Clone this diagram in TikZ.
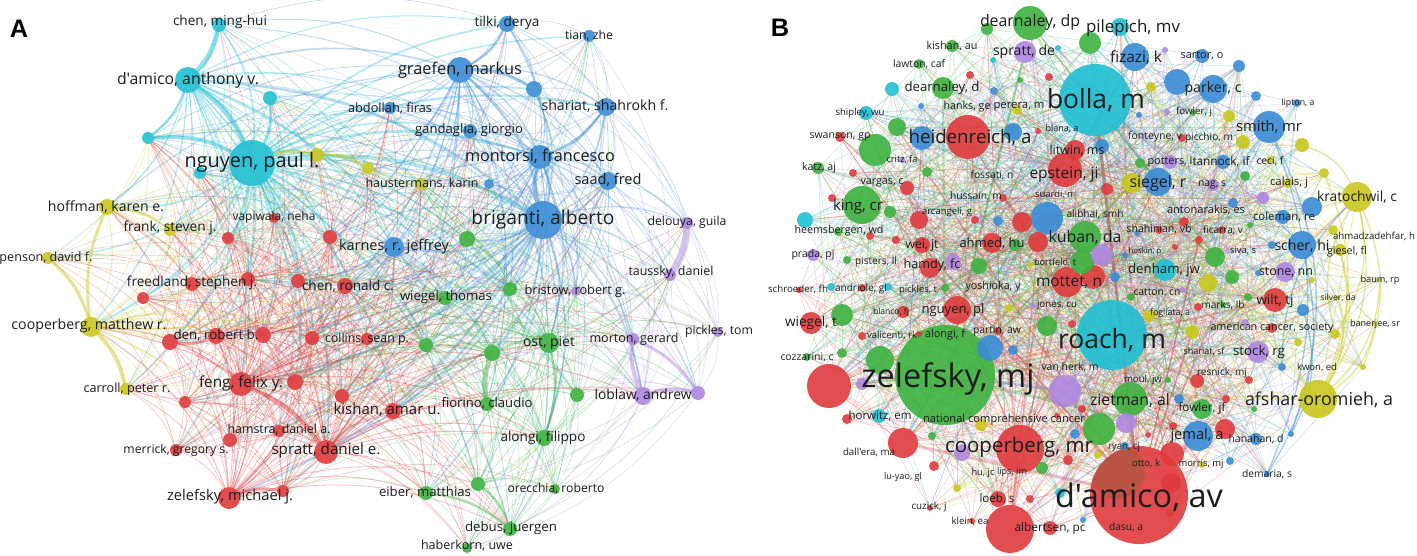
\documentclass[tikz,border=0pt]{standalone}
\usepackage{fontspec}
\usepackage{graphicx}
\newfontfamily\lblfont{Open Sans}
\newfontfamily\panfont{Liberation Sans}
\pgfdeclarelayer{bgl}
\pgfdeclarelayer{edges}
\pgfsetlayers{bgl,edges,main}
\definecolor{cyN}{HTML}{1FBFD3}
\definecolor{blN}{HTML}{3A8BD6}
\definecolor{reN}{HTML}{DF3A3C}
\definecolor{grN}{HTML}{3DB23F}
\definecolor{yeN}{HTML}{C9C71C}
\definecolor{puN}{HTML}{AE86E0}
\definecolor{brN}{HTML}{9A5A3A}
\definecolor{txN}{HTML}{1C1C1C}
\newdimen\pxu \pxu=0.75pt
\newcommand\storenode[6]{%
  \expandafter\xdef\csname #1x#2\endcsname{#3}%
  \expandafter\xdef\csname #1y#2\endcsname{#4}%
  \expandafter\xdef\csname #1r#2\endcsname{#5}%
  \expandafter\xdef\csname #1c#2\endcsname{#6}}
\tikzset{
  vnode/.style={circle, inner sep=0pt, outer sep=0pt, draw=none, fill=#1, fill opacity=0.9},
  lbl/.style={inner sep=0pt, outer sep=0pt, text=txN, font=\lblfont\fontsize{10}{12}\selectfont},
  panlbl/.style={inner sep=0pt, font=\panfont\bfseries\fontsize{19}{20}\selectfont, text=black},
  aedge/.style={draw opacity=0.33, line cap=round},
  bedge/.style={draw opacity=0.3, line cap=round},
}
\begin{document}
\begin{tikzpicture}[x=0.75pt,y=-0.75pt]
\begin{pgfonlayer}{bgl}
\fill[white] (0,0) rectangle (1417,556);
\end{pgfonlayer}
\useasboundingbox (0,0) rectangle (1417,556);
\node[panlbl] (panA) at (19,29) {A};
\node[panlbl] (panB) at (780,28) {B};

% ---------------- Panel A nodes ----------------
\foreach \x/\y/\r/\c [count=\i] in {
219/25/7/cyN, 188/80/13/cyN, 270/98/7/cyN, 148/138/6/cyN, 252/163/23/cyN, 200/173/6/cyN,
317/155/7/yeN, 107/207/8/yeN, 170/230/6/yeN, 274/218/5/reN, 228/238/6/reN, 330/237/7/reN,
48/258/6/yeN, 507/24/8/blN, 589/36/6/blN, 460/70/13/blN, 534/89/8/blN, 390/108/6/blN,
606/107/9/blN, 470/131/7/blN, 540/157/12/blN, 608/181/9/blN, 421/184/6/yeN, 489/184/5/blN,
368/168/6/yeN, 543/220/19/blN, 467/239/8/grN, 394/247/10/blN, 687/223/6/puN, 670/275/6/puN,
192/284/7/reN, 248/279/7/reN, 298/281/7/reN, 345/286/8/reN, 143/298/6/reN, 91/327/10/yeN,
170/342/8/reN, 216/336/8/reN, 263/335/8/reN, 312/338/7/reN, 367/339/6/reN, 241/384/12/reN,
295/382/8/reN, 342/396/7/reN, 126/389/6/yeN, 185/402/6/reN, 279/431/6/reN, 230/440/7/reN,
176/450/6/reN, 326/452/12/reN, 283/491/6/reN, 229/498/11/reN, 393/411/8/reN, 445/298/7/grN,
510/289/7/grN, 576/291/5/puN, 426/345/7/grN, 492/353/8/grN, 549/343/10/grN, 633/339/6/puN,
718/332/5/puN, 487/404/7/grN, 577/395/7/grN, 643/396/9/puN, 698/393/7/puN, 544/438/8/grN,
478/484/7/grN, 426/493/7/grN, 555/489/5/grN, 510/529/7/grN, 467/548/5/grN}{
  \node[vnode=\c, minimum size=\r*1.5pt] (a\i) at (\x,\y) {};
  \storenode{a}{\i}{\x}{\y}{\r}{\c}
  \xdef\NA{\i}
}

% ---------------- Panel B nodes (named) ----------------
\foreach \x/\y/\r/\c/\nm [count=\i] in {
1095/100/36/cyN/bolla, 1112/335/35/cyN/roach, 945/375/50/grN/zelef, 1139/495/49/reN/damav,
968/137/22/reN/heid, 829/386/22/reN/rbig, 1020/449/24/reN/coop, 1010/529/24/reN/albert,
1357/197/15/yeN/krat, 1318/399/19/yeN/afsh, 1333/230/5/yeN/ahma, 1340/250/6/yeN/gies,
1380/280/2/yeN/baum, 1338/298/2/yeN/silv, 1375/324/2/yeN/bane, 1335/334/5/yeN/ytt,
1363/367/3/yeN/ysx, 1269/127/16/blN/smith, 1302/245/14/blN/scher, 1267/474/3/blN/dema,
1291/434/3/blN/bft, 1303/310/6/blN/btt, 1282/367/4/blN/kwon, 1324/173/5/yeN/ytf, 1302/145/7/yeN/yto}{
  \node[vnode=\c, minimum size=\r*1.5pt, alias=\nm] (b\i) at (\x,\y) {};
  \storenode{b}{\i}{\x}{\y}{\r}{\c}
  \xdef\NBa{\i}
}
% darker overlap patch on d'amico, av
\begin{scope}
  \clip (damav.center) circle[radius=49];
  \fill[brN, fill opacity=0.55] (1118,472) circle[radius=27];
\end{scope}
% ---------------- Panel B nodes (others) ----------------
\pgfmathtruncatemacro\NBs{\NBa+1}
\foreach \x/\y/\r/\c [count=\i from \NBs] in {
1120/27/9/cyN, 866/113/7/cyN, 892/89/7/cyN, 805/220/8/cyN, 993/60/3/cyN, 1058/48/3/cyN,
831/287/4/cyN, 888/287/4/cyN, 879/416/7/cyN, 1165/270/11/cyN, 1060/493/5/cyN,
1135/57/14/blN, 1177/82/13/blN, 922/138/12/blN, 921/106/3/blN, 994/91/4/blN, 1013/132/9/blN,
1139/115/3/blN, 1102/146/7/blN, 1158/182/14/blN, 1202/56/7/blN, 1239/66/6/blN, 1213/89/14/blN,
1256/96/5/blN, 1297/103/4/blN, 1223/162/7/blN, 1233/203/5/blN, 1312/207/10/blN, 1283/217/7/blN,
1272/245/4/blN, 1258/273/3/blN, 998/221/5/blN, 1047/218/16/blN, 1125/255/3/blN, 1115/277/5/blN,
1137/233/3/blN, 990/348/13/blN, 1013/350/5/blN, 1179/399/5/blN, 1198/436/15/blN, 1256/439/6/blN,
1075/434/5/blN, 1125/446/4/blN, 1230/461/4/blN, 1083/520/3/blN,
840/137/5/reN, 853/173/4/reN, 907/188/7/reN, 970/75/4/reN, 1049/77/4/reN, 1038/131/3/reN,
1075/150/10/reN, 1065/170/17/reN, 1107/189/6/reN, 1182/138/4/reN, 1222/230/4/reN, 1184/222/5/reN,
1199/240/4/reN, 1175/247/3/reN, 1275/300/12/reN, 1198/307/4/reN, 1272/328/5/reN, 1003/198/4/reN,
975/220/4/reN, 1022/222/10/reN, 1038/242/10/reN, 992/243/10/reN, 930/268/10/reN, 1159/230/4/reN,
1067/282/15/reN, 1093/277/12/reN, 957/310/14/reN, 1072/324/4/reN, 998/331/4/reN, 832/198/4/reN,
919/220/9/reN, 870/236/4/reN, 896/240/4/reN, 922/245/8/reN, 799/290/3/reN, 862/288/4/reN,
811/323/11/reN, 903/312/6/reN, 862/336/4/reN, 919/334/3/reN, 847/419/5/reN, 903/443/15/reN,
934/466/5/reN, 998/499/8/reN, 1030/499/4/reN, 930/508/3/reN, 972/521/3/reN, 1050/528/7/reN,
1197/381/7/reN, 1249/380/4/reN, 1226/399/4/reN, 1082/409/4/reN, 1057/416/3/reN, 1173/426/4/reN,
1225/429/10/reN, 1148/435/3/reN, 1172/454/12/reN, 1171/483/10/reN, 1068/460/5/reN, 1170/513/4/reN,
952/46/6/grN, 919/64/5/grN, 943/88/11/grN, 897/127/9/grN, 875/150/16/grN, 818/168/6/grN,
927/172/5/grN, 1030/23/17/grN, 987/29/6/grN, 1090/43/11/grN, 1020/80/3/grN, 1140/163/5/grN,
1193/113/3/grN, 1245/176/5/grN, 1250/225/3/grN, 1215/257/10/grN, 1232/277/7/grN, 1248/297/4/grN,
1223/305/3/grN, 1015/245/6/grN, 1085/237/16/grN, 1082/262/12/grN, 979/266/8/grN, 945/288/4/grN,
1131/297/4/grN, 1047/326/10/grN, 862/205/19/grN, 890/212/6/grN, 838/232/4/grN, 847/260/4/grN,
842/315/11/grN, 807/357/4/grN, 842/353/5/grN, 880/360/14/grN, 932/436/4/grN, 1042/468/6/grN,
1168/380/3/grN, 1130/399/17/grN, 1202/409/10/grN, 1254/409/3/grN, 1099/429/16/grN,
1151/87/5/yeN, 1017/110/5/yeN, 1132/183/10/yeN, 1229/116/6/yeN, 1243/142/7/yeN, 1270/160/4/yeN,
1288/183/5/yeN, 1312/280/3/yeN, 1208/283/9/yeN, 1192/332/7/yeN, 1298/342/4/yeN, 1030/265/3/yeN,
1009/308/4/yeN, 1149/316/6/yeN, 981/425/6/yeN, 957/488/4/yeN, 1098/455/4/yeN, 1202/465/3/yeN,
1025/52/11/puN, 1165/50/3/puN, 1167/112/3/puN, 902/160/3/puN, 1170/162/7/puN, 1213/185/6/puN,
1263/198/6/puN, 1285/272/10/puN, 1182/290/3/puN, 1245/323/4/puN, 1258/352/11/puN, 1102/255/11/puN,
953/262/8/puN, 1033/306/3/puN, 813/255/6/puN, 862/384/6/puN, 962/453/8/puN, 1065/391/16/puN,
1126/423/10/puN}{
  \node[vnode=\c, minimum size=\r*1.5pt] (b\i) at (\x,\y) {};
  \storenode{b}{\i}{\x}{\y}{\r}{\c}
  \xdef\NB{\i}
}

% ---------------- Edges ----------------
\begin{pgfonlayer}{edges}
% panel A: curved links
\foreach \i in {1,...,\NA}{
  \foreach \j in {1,...,\NA}{
    \ifnum\j>\i\relax
      \edef\xi{\csname ax\i\endcsname}\edef\yi{\csname ay\i\endcsname}\edef\ri{\csname ar\i\endcsname}
      \edef\xj{\csname ax\j\endcsname}\edef\yj{\csname ay\j\endcsname}\edef\rj{\csname ar\j\endcsname}
      \pgfmathsetmacro\dd{veclen(\xi-\xj,\yi-\yj)}
      \pgfmathtruncatemacro\keep{(\dd<150) || ((\dd<300) && (mod(\i*7+\j*11,3)==0)) || (((\ri>9) || (\rj>9)) && (\dd<420) && (mod(\i+\j,2)==0)) || (mod(\i*5+\j*13,17)==0)}
      \ifnum\keep=1\relax
        \pgfmathsetmacro\ww{max(0.5,min(4,\ri*\rj/100))}
        \ifdim\ri pt>\rj pt\relax \edef\ec{\csname ac\i\endcsname}\else \edef\ec{\csname ac\j\endcsname}\fi
        \draw[aedge, draw=\ec, line width=\ww*0.75pt] (a\i) to[bend left=18] (a\j);
      \fi
    \fi
  }
}
% panel A: strong links
\foreach \i/\j/\w/\c in {1/2/5/cyN, 2/5/4/cyN, 2/4/2/cyN, 4/5/3/cyN, 3/5/2/cyN, 29/30/7/puN, 64/60/4/puN,
  64/65/4/puN, 60/65/3/puN, 36/45/4/yeN, 36/8/3/yeN, 13/36/3/yeN, 8/9/2/yeN, 42/50/4/reN, 38/37/3/reN,
  62/58/5/grN, 26/21/4/blN, 16/17/3/blN, 14/16/2/blN, 19/21/2/blN, 5/7/3/yeN, 7/25/3/yeN, 52/51/3/reN,
  59/66/2/grN, 68/70/2/grN, 67/70/2/grN}{
  \draw[aedge, draw=\c, draw opacity=0.45, line width=\w*0.75pt] (a\i) to[bend left=15] (a\j);
}
% panel B: dense links
\pgfmathsetseed{2024}
\foreach \i in {1,...,\NB}{
  \edef\ri{\csname br\i\endcsname}
  \edef\ec{\csname bc\i\endcsname}
  \pgfmathtruncatemacro\kk{4+\ri/2}
  \foreach \k in {1,...,\kk}{
    \pgfmathrandominteger{\j}{1}{\NB}
    \ifnum\j=\i\relax\else
      \edef\rj{\csname br\j\endcsname}
      \pgfmathsetmacro\ww{max(0.5,min(3,\ri*\rj/250))}
      \draw[bedge, draw=\ec, line width=\ww*0.75pt] (b\i) -- (b\j);
    \fi
  }
}
% panel B: outer yellow and blue arcs
\foreach \p/\q/\c in {krat/afsh/yeN, krat/ysx/yeN, ahma/afsh/yeN, gies/afsh/yeN, baum/afsh/yeN,
  silv/afsh/yeN, bane/afsh/yeN, ytt/krat/yeN, ytf/afsh/yeN, yto/krat/yeN, krat/ytt/yeN,
  smith/dema/blN, scher/dema/blN, btt/bft/blN, kwon/krat/blN, smith/bft/blN}{
  \draw[bedge, draw=\c, draw opacity=0.45, line width=1pt] (\p) to[bend left=22] (\q);
}
\end{pgfonlayer}

% ---------------- Labels A ----------------
\foreach \x/\y/\w/\tx [count=\i] in {
220/22/94/{chen, ming-hui}, 188/80/142/{d\char39amico, anthony v.}, 252/162/135/{nguyen, paul l.},
106/207/116/{hoffman, karen e.}, 170/228/93/{frank, steven j.}, 274/217/83/{vapiwala, neha},
46/258/93/{penson, david f.}, 507/23/65/{tilki, derya}, 589/36/48/{tian, zhe},
460/70/124/{graefen, markus}, 390/108/84/{abdollah, firas}, 605/106/127/{shariat, shahrokh f.},
469/130/108/{gandaglia, giorgio}, 540/156/150/{montorsi, francesco}, 608/180/67/{saad, fred},
422/184/113/{haustermans, karin}, 543/220/143/{briganti, alberto}, 394/247/110/{karnes, r. jeffrey},
687/222/79/{delouya, guila}, 671/272/85/{taussky, daniel}, 192/283/130/{freedland, stephen j.},
348/286/92/{chen, ronald c.}, 89/326/155/{cooperberg, matthew r.}, 216/335/85/{den, robert b.},
367/339/84/{collins, sean p.}, 241/383/84/{feng, felix y.}, 127/389/87/{carroll, peter r.},
279/430/103/{hamstra, daniel a.}, 176/450/105/{merrick, gregory s.}, 326/451/109/{spratt, daniel e.},
230/497/126/{zelefsky, michael j.}, 387/410/107/{kishan, amar u.}, 446/297/92/{wiegel, thomas},
575/291/101/{bristow, robert g.}, 549/343/52/{ost, piet}, 634/339/89/{morton, gerard},
719/331/68/{pickles, tom}, 487/403/91/{fiorino, claudio}, 643/395/97/{loblaw, andrew},
543/438/85/{alongi, filippo}, 425/492/92/{eiber, matthias}, 556/489/97/{orecchia, roberto},
511/528/92/{debus, juergen}, 467/546/92/{haberkorn, uwe}}{
  \node[lbl] (la\i) at (\x,\y) {\resizebox{\w\pxu}{!}{\tx}};
}

% ---------------- Labels B ----------------
\foreach \x/\y/\w/\tx [count=\i] in {
952/46/51/{kishan, au}, 919/64/52/{lawton, caf}, 942/88/75/{dearnaley, d}, 967/107/47/{hanks, ge},
860/113/49/{shipley, wu}, 840/137/61/{swanson, gp}, 970/138/123/{heidenreich, a}, 902/160/31/{critz, fa},
819/168/34/{katz, aj}, 882/183/43/{vargas, c}, 1030/22/100/{dearnaley, dp}, 1133/28/94/{pilepich, mv},
1024/52/62/{spratt, de}, 1136/58/52/{fizazi, k}, 1096/100/98/{bolla, m}, 1019/107/51/{perera, m},
1062/129/33/{blana, a}, 1155/137/54/{fonteyne, v}, 1209/138/48/{picchio, m}, 1077/151/55/{litwin, ms},
1064/175/69/{epstein, ji}, 992/175/43/{fossati, n}, 1170/162/45/{potters, l}, 1158/183/57/{siegel, r},
1202/56/43/{sartor, o}, 1213/89/57/{parker, c}, 1298/103/33/{lipton, a}, 1194/112/36/{fowler, j},
1269/127/66/{smith, mr}, 1221/162/57/{tannock, if}, 1270/161/27/{ceci, f}, 1289/183/38/{calais, j},
1212/185/28/{nag, s}, 1357/197/80/{kratochwil, c}, 1206/210/78/{antonarakis, es}, 1284/217/62/{coleman, re},
1159/229/65/{shahinian, vb}, 1223/230/40/{ficarra, v}, 1374/236/82/{ahmadzadehfar, h}, 1302/246/55/{scher, hi},
1243/251/26/{siva, s}, 1347/252/40/{giesel, fl}, 1286/272/54/{stone, nn}, 1380/280/39/{baum, rp},
1164/270/72/{denham, jw}, 1275/301/37/{wilt, tj}, 1223/305/43/{marks, lb}, 1338/298/35/{silver, da},
1375/324/50/{banerjee, sr}, 1272/328/123/{american cancer, society}, 1259/352/52/{stock, rg},
1204/352/41/{shariat, sf}, 1317/367/40/{kwon, ed}, 1170/313/40/{fogliata, a}, 976/196/52/{hussain, m},
1054/195/38/{suardi, n}, 947/212/50/{arcangeli, g}, 1095/214/57/{alibhai, smh}, 1085/237/73/{kuban, da},
992/243/65/{ahmed, hu}, 1145/251/33/{hoskin, p}, 932/265/57/{hamdy, fc}, 1055/263/42/{bortfeld, t},
1069/282/66/{mottet, n}, 993/287/55/{yoshioka, y}, 1157/293/47/{catton, cn}, 1057/305/40/{jones, cu},
953/310/63/{nguyen, pl}, 1112/340/108/{roach, m}, 997/331/48/{partin, aw}, 945/335/40/{alongi, f},
1070/367/57/{van herk, m}, 858/207/50/{king, cr}, 839/231/89/{heemsbergen, wd}, 922/245/33/{wei, jt},
813/255/43/{prada, pj}, 876/262/42/{pisters, ll}, 798/289/60/{schroeder, fh}, 861/289/52/{andriole, gl},
918/290/38/{pickles, t}, 811/323/52/{wiegel, t}, 891/312/36/{blanco, fj}, 892/335/50/{valicenti, rk},
807/357/53/{cozzarini, c}, 948/379/173/{zelefsky, mj}, 880/416/63/{horwitz, em},
1004/420/162/{national comprehensive cancer}, 869/452/52/{dall\char39era, ma}, 1019/447/148/{cooperberg, mr},
903/477/38/{lu-yao, gl}, 983/473/23/{hu, jc}, 1012/472/30/{lips, im}, 997/499/35/{loeb, s},
929/507/35/{cuzick, j}, 970/521/37/{klein, ea}, 1050/528/71/{albertsen, pc}, 1143/380/38/{moul, jw},
1222/373/50/{resnick, mj}, 1130/400/80/{zietman, al}, 1202/408/47/{fowler, jf}, 1319/400/148/{afshar-oromieh, a},
1197/436/53/{jemal, a}, 1256/439/55/{hanahan, d}, 1124/447/32/{ryan, cj}, 1146/463/28/{otto, k},
1201/464/45/{morris, mj}, 1267/474/50/{demaria, s}, 1139/497/168/{d\char39amico, av}, 1126/527/34/{dasu, a}}{
  \node[lbl] (lb\i) at (\x,\y) {\resizebox{\w\pxu}{!}{\tx}};
}
\end{tikzpicture}
\end{document}
